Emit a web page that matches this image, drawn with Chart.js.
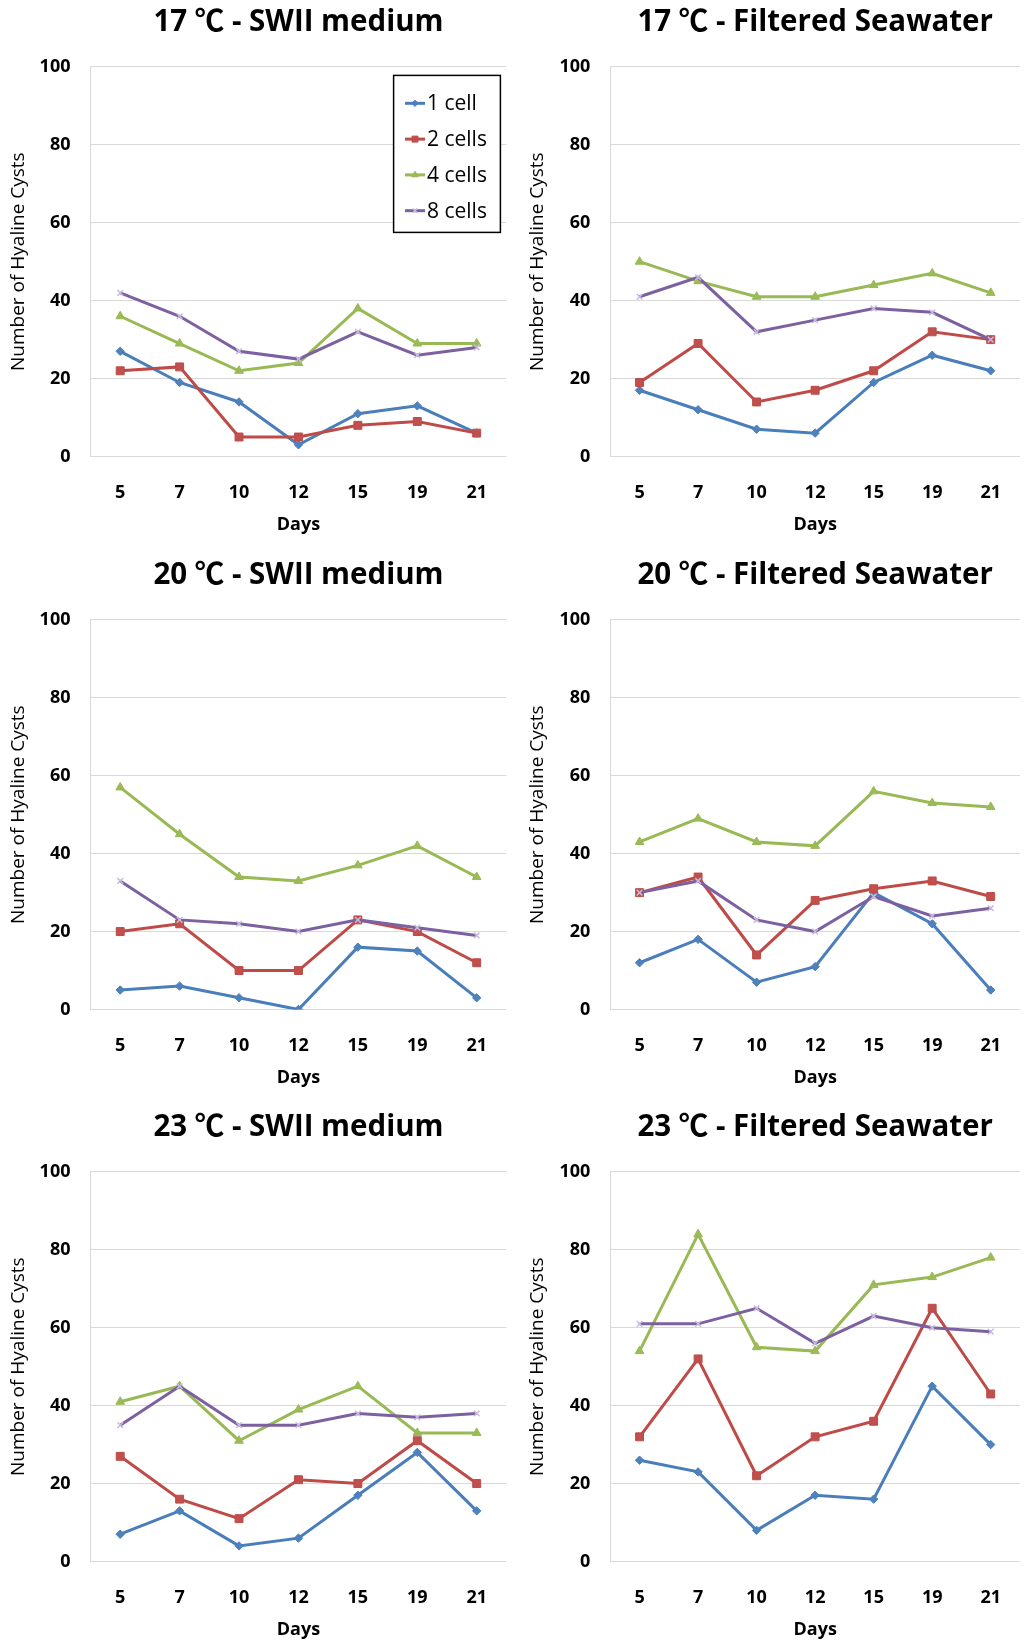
<!DOCTYPE html>
<html><head><meta charset="utf-8">
<script src="https://cdn.jsdelivr.net/npm/chart.js@4.4.0/dist/chart.umd.min.js"></script>
<style>
html,body{margin:0;padding:0;background:#fff;overflow:hidden;width:1027px;height:1641px;}
canvas{position:absolute;}
</style></head><body>
<script>
// ---- data ----
const days = ['5','7','10','12','15','19','21'];
const seriesLabels = ['1 cell','2 cells','4 cells','8 cells'];
const yTickStep = 20;
const yMax = 100;
const panelTitles = ['17 ℃ - SWII medium','17 ℃ - Filtered Seawater','20 ℃ - SWII medium','20 ℃ - Filtered Seawater','23 ℃ - SWII medium','23 ℃ - Filtered Seawater'];

const t17swii_1cell = [27,19,14,3,11,13,6];
const t17swii_2cells = [22,23,5,5,8,9,6];
const t17swii_4cells = [36,29,22,24,38,29,29];
const t17swii_8cells = [42,36,27,25,32,26,28];

const t17fsw_1cell = [17,12,7,6,19,26,22];
const t17fsw_2cells = [19,29,14,17,22,32,30];
const t17fsw_4cells = [50,45,41,41,44,47,42];
const t17fsw_8cells = [41,46,32,35,38,37,30];

const t20swii_1cell = [5,6,3,0,16,15,3];
const t20swii_2cells = [20,22,10,10,23,20,12];
const t20swii_4cells = [57,45,34,33,37,42,34];
const t20swii_8cells = [33,23,22,20,23,21,19];

const t20fsw_1cell = [12,18,7,11,30,22,5];
const t20fsw_2cells = [30,34,14,28,31,33,29];
const t20fsw_4cells = [43,49,43,42,56,53,52];
const t20fsw_8cells = [30,33,23,20,29,24,26];

const t23swii_1cell = [7,13,4,6,17,28,13];
const t23swii_2cells = [27,16,11,21,20,31,20];
const t23swii_4cells = [41,45,31,39,45,33,33];
const t23swii_8cells = [35,45,35,35,38,37,38];

const t23fsw_1cell = [26,23,8,17,16,45,30];
const t23fsw_2cells = [32,52,22,32,36,65,43];
const t23fsw_4cells = [54,84,55,54,71,73,78];
const t23fsw_8cells = [61,61,65,56,63,60,59];

const panelData = [
  [t17swii_1cell,t17swii_2cells,t17swii_4cells,t17swii_8cells],
  [t17fsw_1cell,t17fsw_2cells,t17fsw_4cells,t17fsw_8cells],
  [t20swii_1cell,t20swii_2cells,t20swii_4cells,t20swii_8cells],
  [t20fsw_1cell,t20fsw_2cells,t20fsw_4cells,t20fsw_8cells],
  [t23swii_1cell,t23swii_2cells,t23swii_4cells,t23swii_8cells],
  [t23fsw_1cell,t23fsw_2cells,t23fsw_4cells,t23fsw_8cells]
];

// ---- styles ----
const FONT = "'Open Sans', 'Noto Sans CJK KR', 'DejaVu Sans', sans-serif";
Chart.defaults.font.family = FONT;
Chart.defaults.color = '#000';

const seriesStyle = [
  {line:'#4A7EBB', fill:'#4F81BD', edge:'#4A7EBB', shape:'rectRot', r:4.2, bw:1},
  {line:'#BE4B48', fill:'#C0504D', edge:'#BE4B48', shape:'rect', r:5.6, bw:1},
  {line:'#98B954', fill:'#9BBB59', edge:'#98B954', shape:'triangle', r:5, bw:1},
  {line:'#7D60A0', fill:'#C9BBDD', edge:'#C9BBDD', shape:'crossRot', r:4, bw:1.5}
];

const CANVAS_H = 536;
const AREA_TOP = 66;
const AREA_BOTTOM = 456.5;
const ROW_TOPS = [0, 553, 1105];
const COLS = [
  {x:0, w:513, left:90.5, right:508.5, yTitlePad:7.6},
  {x:513, w:514, left:97.3, right:514, yTitlePad:12.8}
];

const legendPlugin = {
  id: 'boxLegend',
  afterDraw(chart, args, o) {
    if (!o || !o.show) return;
    const ctx = chart.ctx;
    ctx.save();
    ctx.fillStyle = '#fff';
    ctx.fillRect(o.x, o.y, o.w, o.h);
    ctx.strokeStyle = '#000';
    ctx.lineWidth = 1.5;
    ctx.strokeRect(o.x, o.y, o.w, o.h);
    chart.data.datasets.forEach((ds, i) => {
      const y = o.y0 + i * o.dy;
      ctx.strokeStyle = ds.borderColor;
      ctx.lineWidth = 3;
      ctx.beginPath();
      ctx.moveTo(o.lx0, y);
      ctx.lineTo(o.lx1, y);
      ctx.stroke();
      ctx.fillStyle = ds.pointBackgroundColor;
      ctx.strokeStyle = ds.pointBorderColor;
      ctx.lineWidth = ds.pointBorderWidth;
      if (Chart.helpers && Chart.helpers.drawPoint) {
        Chart.helpers.drawPoint(ctx, {pointStyle: ds.pointStyle, radius: ds.pointRadius * 0.75, borderWidth: ds.pointBorderWidth, rotation: 0}, (o.lx0 + o.lx1) / 2, y);
      }
      ctx.fillStyle = '#000';
      ctx.font = o.fontSize + 'px ' + FONT;
      ctx.textBaseline = 'middle';
      ctx.textAlign = 'left';
      ctx.fillText(ds.label, o.tx, y + 1);
    });
    ctx.restore();
  }
};

panelData.forEach((series, p) => {
  const col = COLS[p % 2];
  const row = Math.floor(p / 2);
  const cv = document.createElement('canvas');
  cv.width = col.w; cv.height = CANVAS_H;
  cv.style.left = col.x + 'px';
  cv.style.top = ROW_TOPS[row] + 'px';
  cv.style.width = col.w + 'px';
  cv.style.height = CANVAS_H + 'px';
  document.body.appendChild(cv);

  const datasets = series.map((vals, i) => {
    const s = seriesStyle[i];
    return {
      label: seriesLabels[i],
      data: vals,
      borderColor: s.line,
      backgroundColor: s.fill,
      borderWidth: 3,
      tension: 0,
      pointStyle: s.shape,
      pointRadius: s.r,
      pointBackgroundColor: s.fill,
      pointBorderColor: s.edge,
      pointBorderWidth: s.bw,
      order: 3 - i
    };
  });

  new Chart(cv, {
    type: 'line',
    data: {labels: days, datasets},
    plugins: [legendPlugin],
    options: {
      responsive: false,
      animation: false,
      devicePixelRatio: 1,
      layout: {padding: {left: 0, right: col.w - col.right, top: 0, bottom: 0}},
      plugins: {
        legend: {display: false},
        tooltip: {enabled: false},
        title: {
          display: true, text: panelTitles[p], fullSize: false, color: '#000',
          font: {size: 29.5, weight: 'bold'},
          padding: {top: 4.9, bottom: 26.6}
        },
        boxLegend: {
          show: p === 0,
          x: 393.6, y: 75.4, w: 106.8, h: 157,
          y0: 103.3, dy: 35.8, lx0: 405, lx1: 425, tx: 427, fontSize: 21
        }
      },
      scales: {
        x: {
          offset: true,
          grid: {display: false, drawTicks: false},
          border: {display: false},
          ticks: {padding: 25.5, color: '#000', font: {size: 18, weight: 'bold'}, maxRotation: 0},
          title: {display: true, text: 'Days', color: '#000', font: {size: 18, weight: 'bold'}, padding: {top: 0, bottom: 0.7}},
          afterFit: (s) => { s.height = CANVAS_H - AREA_BOTTOM; }
        },
        y: {
          min: 0, max: yMax,
          ticks: {stepSize: yTickStep, padding: 20, color: '#000', font: {size: 18, weight: 'bold'}},
          grid: {color: '#d9d9d9', lineWidth: 1, drawTicks: false},
          border: {display: true, color: '#d9d9d9', width: 1},
          title: {display: true, text: 'Number of Hyaline Cysts', color: '#000', font: {size: 19}, padding: {top: col.yTitlePad, bottom: 0}},
          afterFit: (s) => { s.width = col.left; }
        }
      }
    }
  });
});
</script>
</body></html>
